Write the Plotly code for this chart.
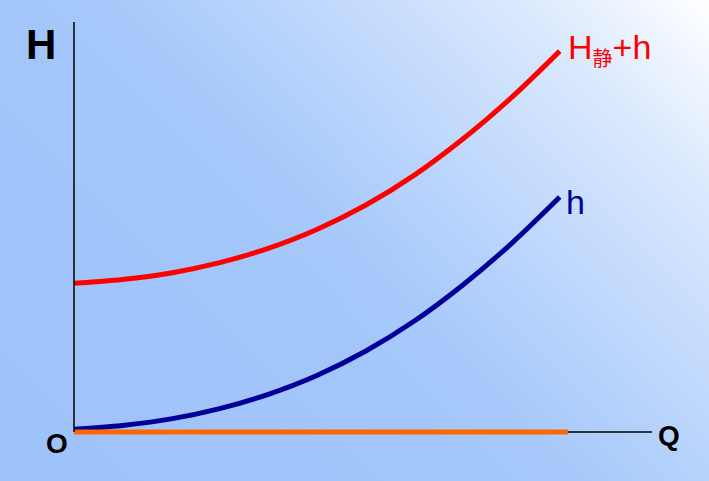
import base64
import plotly.graph_objects as go

# ---- data ----
Q = [0, 1, 2, 3, 4, 5, 6, 7, 8, 9, 10]
h = [0.07, 0.16, 0.32, 0.57, 0.92, 1.38, 1.97, 2.70, 3.58, 4.59, 5.73]
H_total = [3.63, 3.72, 3.88, 4.13, 4.48, 4.94, 5.53, 6.26, 7.14, 8.15, 9.29]
base_q = [0, 10.17]
base_h = [0, 0]

# ---- pixel mapping (layout) ----
W, Hh = 709, 481
X0, PX = 74, 48.57     # pixel of Q=0, pixels per unit
Y0, PY = 432, 41       # pixel of H=0, pixels per unit
xr = [-X0 / PX, (W - X0) / PX]
yr = [(Y0 - Hh) / PY, Y0 / PY]

svg = f'''<svg xmlns="http://www.w3.org/2000/svg" width="{W}" height="{Hh}" viewBox="0 0 {W} {Hh}" preserveAspectRatio="none">
<defs><linearGradient id="g" x1="0" y1="1" x2="1.154" y2="0.231">
<stop offset="0" stop-color="#9DC2FA"/>
<stop offset="0.4" stop-color="#A3C6FA"/>
<stop offset="0.5" stop-color="#A8CAFB"/>
<stop offset="0.62" stop-color="#B9D4FC"/>
<stop offset="0.83" stop-color="#D9E8FD"/>
<stop offset="1" stop-color="#FFFFFF"/>
</linearGradient></defs>
<rect x="0" y="0" width="{W}" height="{Hh}" fill="url(#g)"/></svg>'''
src = "data:image/svg+xml;base64," + base64.b64encode(svg.encode()).decode()

fig = go.Figure()
fig.add_trace(go.Scatter(x=Q, y=h, mode="lines", line=dict(color="#000099", width=5, shape="spline"), hoverinfo="skip"))
fig.add_trace(go.Scatter(x=Q, y=H_total, mode="lines", line=dict(color="#FF0000", width=5, shape="spline"), hoverinfo="skip"))
fig.add_trace(go.Scatter(x=base_q, y=base_h, mode="lines", line=dict(color="#FF6600", width=5), hoverinfo="skip"))

font = "Liberation Sans, Arial, Noto Sans CJK SC, sans-serif"
fig.update_layout(
    width=W, height=Hh, margin=dict(l=0, r=0, t=0, b=0),
    paper_bgcolor="#A3C6FA", plot_bgcolor="rgba(0,0,0,0)",
    showlegend=False,
    xaxis=dict(range=xr, visible=False, fixedrange=True),
    yaxis=dict(range=yr, visible=False, fixedrange=True),
    images=[dict(source=src, xref="paper", yref="paper", x=0, y=1, sizex=1, sizey=1,
                 sizing="stretch", xanchor="left", yanchor="top", layer="below")],
    shapes=[
        dict(type="line", xref="x", yref="y", x0=0, y0=0, x1=0, y1=10, line=dict(color="black", width=1.5), layer="above"),
        dict(type="line", xref="x", yref="y", x0=0, y0=0, x1=11.9, y1=0, line=dict(color="black", width=1.5), layer="below"),
    ],
    annotations=[
        dict(x=-0.68, y=9.46, xref="x", yref="y", text="<b>H</b>", showarrow=False,
             font=dict(family=font, size=42, color="black")),
        dict(x=-0.34, y=-0.27, xref="x", yref="y", text="<b>O</b>", showarrow=False,
             font=dict(family=font, size=28, color="black")),
        dict(x=12.25, y=-0.08, xref="x", yref="y", text="<b>Q</b>", showarrow=False,
             font=dict(family=font, size=28, color="black")),
        dict(x=10.12, y=9.35, xref="x", yref="y", xanchor="left",
             text="H<sub><span style='font-size:20px'>静</span></sub>+h", showarrow=False,
             font=dict(family=font, size=34, color="#FF0000")),
        dict(x=10.08, y=5.6, xref="x", yref="y", xanchor="left", text="h", showarrow=False,
             font=dict(family=font, size=34, color="#000099")),
    ],
)
fig.write_html("out.html", config={"displayModeBar": False},
               post_script="document.body.style.margin='0';document.body.style.padding='0';")
